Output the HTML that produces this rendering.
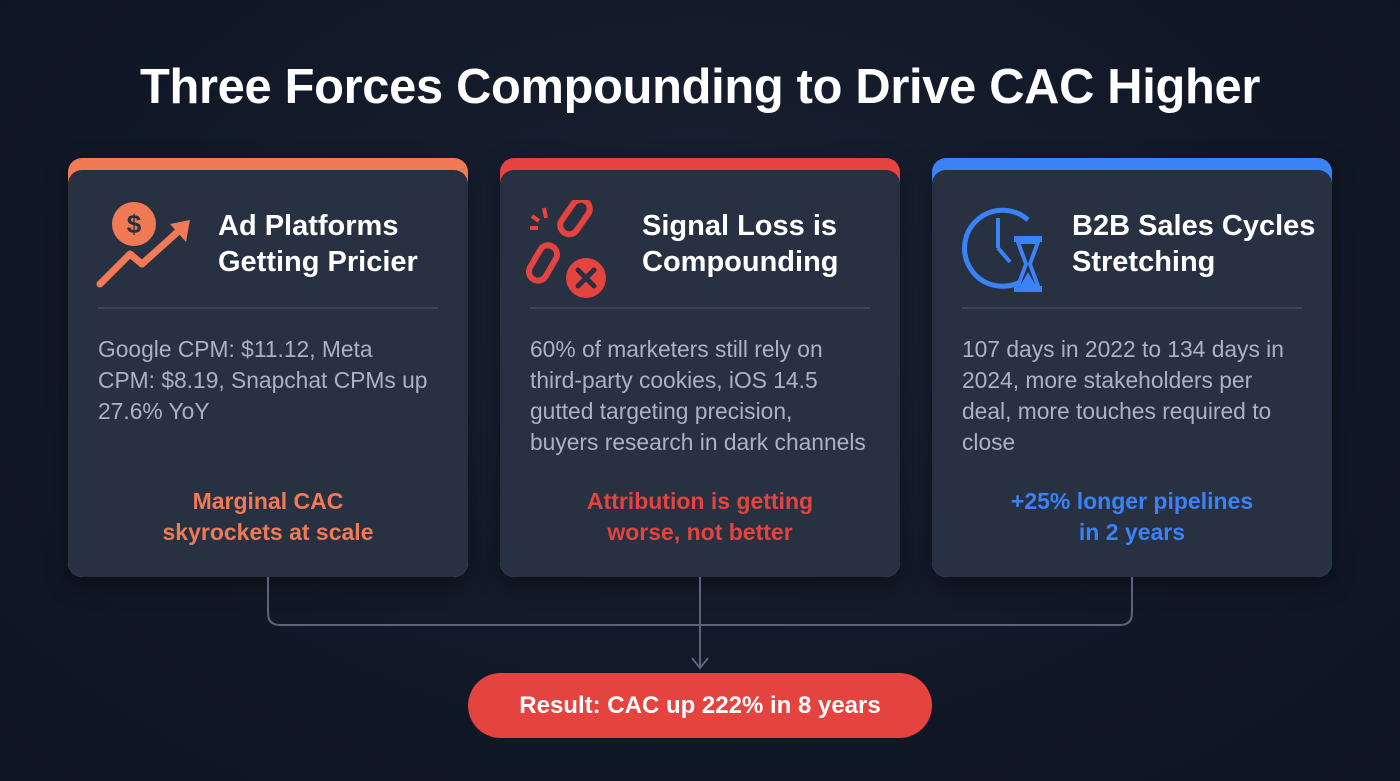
<!DOCTYPE html>
<html><head><meta charset="utf-8"><style>
*{margin:0;padding:0;box-sizing:border-box}
body{width:1400px;height:781px;overflow:hidden;background:radial-gradient(ellipse at 50% 40%,#1a2335 0%,#111827 60%,#0d1424 100%);font-family:"Liberation Sans",sans-serif;position:relative;color:#fff}
h1{position:absolute;left:0;width:1400px;top:59px;text-align:center;font-size:48.8px;font-weight:bold;letter-spacing:-0.3px}
.card{position:absolute;top:158px;width:400px;height:419px;border-radius:14px;overflow:hidden;box-shadow:0 8px 24px rgba(0,0,0,.4)}
.card .body{position:absolute;left:0;right:0;top:12px;bottom:0;background:#273142;border-radius:14px}
.card svg.ic{position:absolute;left:26px;top:30px}
.card .hd{position:absolute;left:150px;top:38px;font-size:29px;font-weight:bold;line-height:36px;color:#fff;white-space:nowrap}
.card .div{position:absolute;left:30px;right:30px;top:137px;height:2px;background:#3a4558}
.card .tx{position:absolute;left:30px;right:0;top:164px;font-size:22.8px;line-height:31px;color:#aab3c2;white-space:nowrap}
.card .hl{position:absolute;left:0;right:0;top:316px;text-align:center;font-size:23px;font-weight:bold;line-height:31px}
.pill{position:absolute;left:468px;top:673px;width:464px;height:65px;border-radius:33px;background:#e5433f;text-align:center;line-height:65px;font-size:24px;font-weight:bold}
</style></head><body>
<h1>Three Forces Compounding to Drive CAC Higher</h1>

<div class="card" style="left:68px;background:#f07a55">
<div class="body">
<svg class="ic" width="110" height="100" viewBox="0 0 110 100">
<circle cx="40" cy="24" r="22" fill="#f07a55"/><text x="40" y="33" text-anchor="middle" font-size="26" font-weight="bold" fill="#273142" font-family="Liberation Sans">$</text>
<polyline points="6,84 36,54 48,64 88,28" fill="none" stroke="#f07a55" stroke-width="7" stroke-linecap="round" stroke-linejoin="round"/>
<polygon points="96,20 76,24 92,42" fill="#f07a55"/>
</svg>
<div class="hd">Ad Platforms<br>Getting Pricier</div>
<div class="div"></div>
<div class="tx">Google CPM: $11.12, Meta<br>CPM: $8.19, Snapchat CPMs up<br>27.6% YoY</div>
<div class="hl" style="color:#f07a55">Marginal CAC<br>skyrockets at scale</div>
</div></div>

<div class="card" style="left:500px;background:#e5433f">
<div class="body">
<svg class="ic" width="100" height="100" viewBox="0 0 100 100">
<rect x="40" y="-2" width="18" height="38" rx="9" fill="none" stroke="#e5433f" stroke-width="6" transform="rotate(35 49 17)"/>
<rect x="8" y="44" width="18" height="38" rx="9" fill="none" stroke="#e5433f" stroke-width="6" transform="rotate(30 17 63)"/>
<line x1="4" y1="28" x2="12" y2="28" stroke="#e5433f" stroke-width="4"/><line x1="18" y1="8" x2="20" y2="18" stroke="#e5433f" stroke-width="4"/><line x1="6" y1="16" x2="13" y2="21" stroke="#e5433f" stroke-width="4"/>
<circle cx="60" cy="78" r="20" fill="#e5433f"/><path d="M52 70 L68 86 M68 70 L52 86" stroke="#273142" stroke-width="5" stroke-linecap="round"/>
</svg>
<div class="hd" style="left:142px">Signal Loss is<br>Compounding</div>
<div class="div"></div>
<div class="tx">60% of marketers still rely on<br>third-party cookies, iOS 14.5<br>gutted targeting precision,<br>buyers research in dark channels</div>
<div class="hl" style="color:#e5433f">Attribution is getting<br>worse, not better</div>
</div></div>

<div class="card" style="left:932px;background:#3b82f6">
<div class="body">
<svg class="ic" width="100" height="100" viewBox="0 0 100 100">
<path d="M62 82 A38 38 0 1 1 70 20" fill="none" stroke="#3b82f6" stroke-width="5"/>
<line x1="40" y1="18" x2="40" y2="48" stroke="#3b82f6" stroke-width="4"/><line x1="40" y1="48" x2="52" y2="62" stroke="#3b82f6" stroke-width="4"/>
<rect x="56" y="36" width="28" height="6" fill="#3b82f6"/><rect x="56" y="86" width="28" height="6" fill="#3b82f6"/>
<path d="M60 42 L80 42 L72 64 L80 86 L60 86 L68 64 Z" fill="none" stroke="#3b82f6" stroke-width="4"/><path d="M62 86 L70 72 L78 86Z" fill="#3b82f6"/>
</svg>
<div class="hd" style="left:140px">B2B Sales Cycles<br>Stretching</div>
<div class="div"></div>
<div class="tx">107 days in 2022 to 134 days in<br>2024, more stakeholders per<br>deal, more touches required to<br>close</div>
<div class="hl" style="color:#3b82f6">+25% longer pipelines<br>in 2 years</div>
</div></div>

<svg style="position:absolute;left:0;top:0" width="1400" height="781">
<path d="M268 577 V613 Q268 625 280 625 H1120 Q1132 625 1132 613 V577" fill="none" stroke="#5a6579" stroke-width="2"/>
<path d="M700 577 V668" fill="none" stroke="#5a6579" stroke-width="2"/>
<path d="M692 658 L700 668 L708 658" fill="none" stroke="#5a6579" stroke-width="2"/>
</svg>
<div class="pill">Result: CAC up 222% in 8 years</div>
</body></html>
